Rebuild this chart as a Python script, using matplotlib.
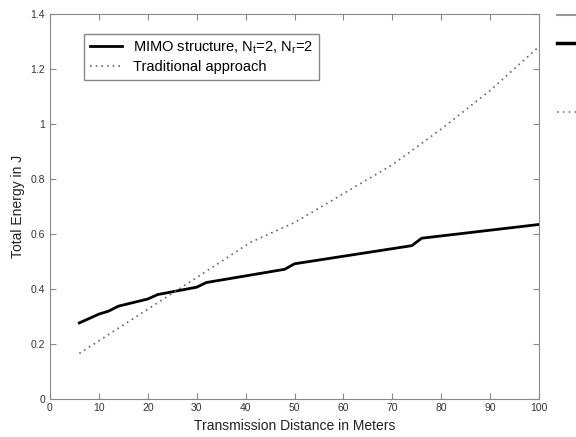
import matplotlib
matplotlib.use('Agg')
import matplotlib.pyplot as plt
from matplotlib.lines import Line2D
from matplotlib.ticker import FormatStrFormatter

plt.rcParams['font.family'] = ['Liberation Sans', 'DejaVu Sans']
plt.rcParams['mathtext.fontset'] = 'custom'
plt.rcParams['mathtext.rm'] = 'Liberation Sans'

# 数据
mimo_x = [6, 10, 12, 14, 20, 22, 30, 32, 48, 50, 74, 76, 100]
mimo_y = [0.275, 0.307, 0.318, 0.336, 0.362, 0.378, 0.405, 0.422, 0.470, 0.490, 0.556, 0.583, 0.633]

trad_x = [6, 20, 30, 41, 50, 60, 70, 80, 90, 100]
trad_y = [0.164, 0.325, 0.44, 0.568, 0.64, 0.745, 0.85, 0.98, 1.12, 1.28]

xticks = [0, 10, 20, 30, 40, 50, 60, 70, 80, 90, 100]
yticks = [0, 0.2, 0.4, 0.6, 0.8, 1.0, 1.2, 1.4]

fig = plt.figure(figsize=(5.76, 4.37), dpi=100)
ax = fig.add_axes([0.0868, 0.088, 0.849, 0.881])

ax.plot(mimo_x, mimo_y, color='black', lw=2.0,
        label=r'MIMO structure, N$_{\rm t}$=2, N$_{\rm r}$=2')
ax.plot(trad_x, trad_y, color='#666666', lw=1.2, linestyle=(0, (1, 2.4)),
        label='Traditional approach')

ax.set_xlim(0, 100)
ax.set_ylim(0, 1.4)
ax.set_xticks(xticks)
ax.set_yticks(yticks)
ax.yaxis.set_major_formatter(FormatStrFormatter('%g'))
ax.tick_params(direction='in', top=True, right=True, length=4,
               color='#888888', labelsize=7.5, labelcolor='#333333')
for s in ax.spines.values():
    s.set_color('#888888')

ax.set_xlabel('Transmission Distance in Meters', fontsize=10, color='#222222')
ax.set_ylabel('Total Energy in J', fontsize=10, color='#222222')

leg = ax.legend(loc='upper left', bbox_to_anchor=(0.069, 0.948), borderaxespad=0,
                fontsize=10.5, fancybox=False, framealpha=1, edgecolor='#888888',
                handlelength=2.2, borderpad=0.4, labelspacing=0.25)
leg.get_frame().set_linewidth(1.0)

# 右侧被截断的另一个图例残片
fig.add_artist(Line2D([557 / 576, 1.0], [1 - 15 / 437] * 2, color='#999999', lw=1.5))
fig.add_artist(Line2D([557 / 576, 1.0], [1 - 43 / 437] * 2, color='black', lw=2.5))
fig.add_artist(Line2D([557 / 576, 1.0], [1 - 112 / 437] * 2, color='#777777', lw=1.2,
                      linestyle=(0, (1, 2.5))))

fig.savefig('out.png', dpi=100)
